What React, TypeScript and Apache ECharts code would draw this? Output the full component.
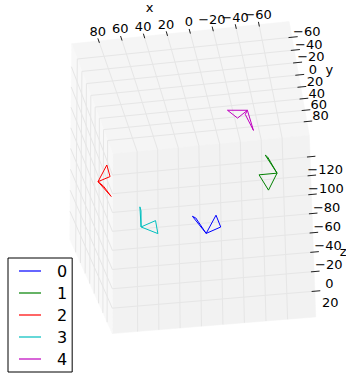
import React, { useEffect, useRef } from 'react';
import * as echarts from 'echarts';

const W = 346;
const H = 377;

// Pane extents of the 3D box (data units)
const xLim = [-86, 104];
const yLim = [-84, 105];
const zLim = [-143, 46];

// Tick values
const xTicks = [-60, -40, -20, 0, 20, 40, 60, 80];
const yTicks = [-60, -40, -20, 0, 20, 40, 60, 80];
const zTicks = [-120, -100, -80, -60, -40, -20, 0, 20];

// Series
const names = ['0', '1', '2', '3', '4'];
const colors = ['#0000ff', '#008000', '#ff0000', '#00bfbf', '#bf00bf'];

const xs0 = [0, 12, 9, 0, -9, -13, 0];
const ys0 = [0, 0, 0, 0, 0, 0, 0];
const zs0 = [7, -11, -9, 7, -10, 2, 7];

const xs1 = [-64, -54, -56, -64, -48, -56, -64];
const ys1 = [0, 0, 0, 0, 0, 0, 0];
const zs1 = [-46, -65, -63, -46, -46, -30, -46];

const xs2 = [97, 89, 86, 97, 85, 92, 97];
const ys2 = [0, 0, 0, 0, 0, 0, 0];
const zs2 = [-54, -70, -58, -54, -38, -49, -54];

const xs3 = [58, 59, 58, 58, 45, 43, 58];
const ys3 = [0, 0, 0, 0, 0, 0, 0];
const zs3 = [-5, -25, -21, -5, -10, 3, -5];

const xs4 = [-39, -21, -30, -39, -44, -37, -39];
const ys4 = [0, 0, 0, 0, 0, 0, 0];
const zs4 = [-112, -114, -105, -112, -91, -108, -112];

const seriesX = [xs0, xs1, xs2, xs3, xs4];
const seriesY = [ys0, ys1, ys2, ys3, ys4];
const seriesZ = [zs0, zs1, zs2, zs3, zs4];

// Camera
const ELEV = 23.5;
const AZIM = -98;
const ROLL = 179;
const DIST = 10;
const BOX = [1.143, 1.143, 0.885];
const CX = 197;
const CY = 184;
const SX = 186;
const SY = 232;

const FONT = 'DejaVu Sans';

function cross(a: number[], b: number[]) {
  return [a[1] * b[2] - a[2] * b[1], a[2] * b[0] - a[0] * b[2], a[0] * b[1] - a[1] * b[0]];
}
function dot(a: number[], b: number[]) {
  return a[0] * b[0] + a[1] * b[1] + a[2] * b[2];
}

const rad = Math.PI / 180;
const e = ELEV * rad, az = AZIM * rad, ro = ROLL * rad;
const F = [-Math.cos(e) * Math.cos(az), -Math.cos(e) * Math.sin(az), -Math.sin(e)];
const nxy = Math.hypot(F[0], F[1]);
const right0 = [F[1] / nxy, -F[0] / nxy, 0];
const up0 = cross(right0, F);
const RIGHT = [0, 1, 2].map((i) => Math.cos(ro) * right0[i] + Math.sin(ro) * up0[i]);
const DOWN = [0, 1, 2].map((i) => -(-Math.sin(ro) * right0[i] + Math.cos(ro) * up0[i]));

const xc = (xLim[0] + xLim[1]) / 2, xr = xLim[1] - xLim[0];
const yc = (yLim[0] + yLim[1]) / 2, yr = yLim[1] - yLim[0];
const zc = (zLim[0] + zLim[1]) / 2, zr = zLim[1] - zLim[0];

function P(x: number, y: number, z: number): number[] {
  const d = [((x - xc) / xr) * BOX[0], ((y - yc) / yr) * BOX[1], ((z - zc) / zr) * BOX[2]];
  const k = DIST / (DIST + dot(F, d));
  return [k * dot(RIGHT, d), k * dot(DOWN, d)];
}

const fmt = (v: number) => (v < 0 ? '\u2212' + Math.abs(v) : String(v));

export default function App() {
  const ref = useRef<HTMLDivElement>(null);
  useEffect(() => {
    if (!ref.current) return;
    const chart = echarts.init(ref.current, undefined, { renderer: 'svg' });
    const [x0, x1] = xLim;
    const [y0, y1] = yLim;
    const [z0, z1] = zLim;

    const panes = [
      { color: '#f5f5f5', pts: [P(x1, y0, z0), P(x0, y0, z0), P(x0, y1, z0), P(x1, y1, z0)] },
      { color: '#f2f2f2', pts: [P(x1, y1, z0), P(x0, y1, z0), P(x0, y1, z1), P(x1, y1, z1)] },
      { color: '#f8f8f8', pts: [P(x1, y0, z0), P(x1, y1, z0), P(x1, y1, z1), P(x1, y0, z1)] },
    ];

    const grid: number[][][] = [];
    xTicks.forEach((x) => grid.push([P(x, y0, z0), P(x, y1, z0)]));
    yTicks.forEach((y) => grid.push([P(x0, y, z0), P(x1, y, z0)]));
    xTicks.forEach((x) => grid.push([P(x, y1, z0), P(x, y1, z1)]));
    zTicks.forEach((z) => grid.push([P(x0, y1, z), P(x1, y1, z)]));
    yTicks.forEach((y) => grid.push([P(x1, y, z0), P(x1, y, z1)]));
    zTicks.forEach((z) => grid.push([P(x1, y0, z), P(x1, y1, z)]));

    const ticks: number[][][] = [];
    xTicks.forEach((x) => ticks.push([P(x, y0 + 3, z0), P(x, y0 - 4, z0)]));
    yTicks.forEach((y) => ticks.push([P(x0 + 3, y, z0), P(x0 - 5, y, z0)]));
    zTicks.forEach((z) => ticks.push([P(x0 + 3, y1, z), P(x0 - 5, y1, z)]));

    const labels: { p: number[]; t: string; size: number }[] = [];
    xTicks.forEach((x) => labels.push({ p: P(x, y0 - 5, z0 - 6.5), t: fmt(x), size: 13 }));
    yTicks.forEach((y) => labels.push({ p: P(x0 - 13, y, z0 - 4.5), t: fmt(y), size: 13 }));
    zTicks.forEach((z) => labels.push({ p: P(x0 - 12, y1 + 27, z), t: fmt(z), size: 13 }));
    labels.push({ p: P(35, y0, z0 - 28), t: 'x', size: 13 });
    labels.push({ p: P(x0 - 27, 10, z0 - 9), t: 'y', size: 13 });
    labels.push({ p: P(x0 - 24, y1 + 60, zc), t: 'z', size: 13 });

    const segSeries = (segs: number[][][], color: string, width: number, z: number) => ({
      type: 'custom',
      coordinateSystem: 'cartesian2d',
      silent: true,
      z,
      data: segs.map((s) => s[0]),
      renderItem: (params: any, api: any) => {
        const s = segs[params.dataIndex];
        const a = api.coord(s[0]);
        const b = api.coord(s[1]);
        return {
          type: 'line',
          shape: { x1: a[0], y1: a[1], x2: b[0], y2: b[1] },
          style: { stroke: color, lineWidth: width },
        };
      },
    });

    const option: any = {
      animation: false,
      backgroundColor: '#ffffff',
      grid: { left: 0, right: 0, top: 0, bottom: 0 },
      xAxis: { type: 'value', min: -CX / SX, max: (W - CX) / SX, show: false },
      yAxis: { type: 'value', inverse: true, min: -CY / SY, max: (H - CY) / SY, show: false },
      legend: {
        data: names,
        orient: 'vertical',
        left: 8,
        top: 258,
        height: 110,
        itemWidth: 22,
        itemHeight: 16,
        itemGap: 6,
        icon: 'path://M0 0H22V1.2H0Z',
        padding: [5, 5, 5, 11],
        borderColor: '#000',
        borderWidth: 1,
        borderRadius: 0,
        backgroundColor: '#fff',
        selectedMode: false,
        textStyle: {
          fontSize: 16,
          lineHeight: 16,
          fontFamily: FONT,
          color: '#000',
          padding: [0, 0, 0, 11],
        },
      },
      series: [
        {
          type: 'custom',
          coordinateSystem: 'cartesian2d',
          silent: true,
          z: 1,
          data: panes.map((p) => p.pts[0]),
          renderItem: (params: any, api: any) => {
            const p = panes[params.dataIndex];
            return {
              type: 'polygon',
              shape: { points: p.pts.map((q) => api.coord(q)) },
              style: { fill: p.color, stroke: p.color, lineWidth: 0.5 },
            };
          },
        },
        segSeries(grid, '#e6e6e6', 1, 2),
        segSeries(ticks, '#222222', 1, 3),
        {
          type: 'custom',
          coordinateSystem: 'cartesian2d',
          silent: true,
          z: 4,
          data: labels.map((l) => l.p),
          renderItem: (params: any, api: any) => {
            const l = labels[params.dataIndex];
            const c = api.coord(l.p);
            return {
              type: 'text',
              x: c[0],
              y: c[1],
              style: {
                text: l.t,
                fill: '#000',
                fontSize: l.size,
                lineHeight: 11,
                fontFamily: FONT,
                align: 'center',
                verticalAlign: 'middle',
              },
            };
          },
        },
        ...names.map((n, i) => ({
          type: 'line',
          name: n,
          z: 5,
          symbol: 'none',
          showSymbol: false,
          color: colors[i],
          itemStyle: { color: colors[i] },
          lineStyle: { width: 1, color: colors[i] },
          data: seriesX[i].map((x, j) => P(x, seriesY[i][j], seriesZ[i][j])),
        })),
      ],
    };
    chart.setOption(option);
    return () => chart.dispose();
  }, []);
  return <div ref={ref} style={{ position: 'fixed', left: 0, top: 0, width: W, height: H }} />;
}
